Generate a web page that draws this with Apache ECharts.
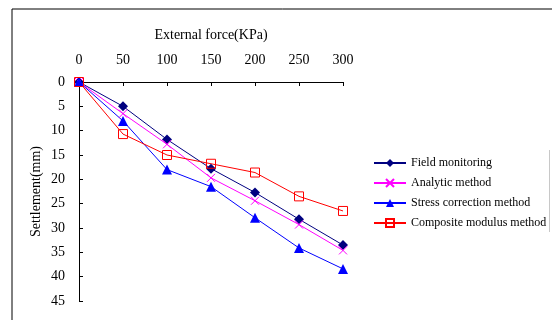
<!DOCTYPE html>
<html>
<head>
<meta charset="utf-8">
<script src="https://cdn.jsdelivr.net/npm/echarts@6/dist/echarts.min.js"></script>
<style>
  html, body { margin: 0; padding: 0; background: #fff; }
  #chart { width: 552px; height: 320px; }
</style>
</head>
<body>
<div id="chart"></div>
<script>
var forces = [0, 50, 100, 150, 200, 250, 300];
var fieldMonitoring = [0, 5.0, 11.8, 17.8, 22.7, 28.2, 33.5];
var analyticMethod = [0, 6.5, 12.8, 19.7, 24.4, 29.3, 34.6];
var stressCorrection = [0, 8.0, 18.0, 21.5, 27.9, 34.1, 38.4];
var compositeModulus = [0, 10.7, 15.0, 16.8, 18.6, 23.5, 26.5];

var dom = document.getElementById("chart");
var myChart = echarts.init(dom, null, { renderer: "canvas" });

var font = "Liberation Serif";

function pairs(vals) {
  return forces.map(function (f, i) { return [f, vals[i]]; });
}

var option = {
  animation: false,
  backgroundColor: "#fff",
  textStyle: { fontFamily: font },
  graphic: [
    {
      type: "rect",
      shape: { x: 12, y: 9, width: 700, height: 500 },
      style: { fill: "none", stroke: "#000", lineWidth: 1 },
      silent: true
    },
    {
      type: "line",
      shape: { x1: 549.5, y1: 150, x2: 549.5, y2: 232 },
      style: { stroke: "#c8c8c8", lineWidth: 1 },
      silent: true
    }
  ],
  grid: { left: 79, top: 82, right: 209, bottom: 19, containLabel: false },
  legend: {
    orient: "vertical",
    left: 368,
    top: 152,
    itemWidth: 32,
    itemHeight: 10,
    itemGap: 8,
    textStyle: { fontFamily: font, fontSize: 12, color: "#000" },
    data: ["Field monitoring", "Analytic method", "Stress correction method", "Composite modulus method"]
  },
  xAxis: {
    type: "value",
    position: "top",
    min: 0,
    max: 300,
    interval: 50,
    name: "External force(KPa)",
    nameLocation: "middle",
    nameGap: 40,
    nameTextStyle: { fontFamily: font, fontSize: 14, color: "#000" },
    axisLine: { lineStyle: { color: "#000", width: 1 } },
    axisTick: { inside: true, length: 4, lineStyle: { color: "#000" } },
    axisLabel: { fontFamily: font, fontSize: 14, color: "#000", margin: 15 },
    splitLine: { show: false }
  },
  yAxis: {
    type: "value",
    inverse: true,
    min: 0,
    max: 45,
    interval: 5,
    name: "Settlement(mm)",
    nameLocation: "middle",
    nameGap: 36,
    nameTextStyle: { fontFamily: font, fontSize: 14, color: "#000" },
    axisLine: { show: true, lineStyle: { color: "#000", width: 1 } },
    axisTick: { show: true, inside: true, length: 4, lineStyle: { color: "#000" } },
    axisLabel: { fontFamily: font, fontSize: 14, color: "#000", margin: 14 },
    splitLine: { show: false }
  },
  series: [
    {
      name: "Field monitoring",
      type: "line",
      data: pairs(fieldMonitoring),
      symbol: "diamond",
      symbolSize: 10,
      lineStyle: { color: "#000080", width: 1 },
      itemStyle: { color: "#000080" }
    },
    {
      name: "Analytic method",
      type: "line",
      data: pairs(analyticMethod),
      symbol: "path://M0,0L10,10M10,0L0,10",
      symbolSize: 8,
      lineStyle: { color: "#ff00ff", width: 1 },
      itemStyle: { color: "#ff00ff", borderColor: "#ff00ff", borderWidth: 1 }
    },
    {
      name: "Stress correction method",
      type: "line",
      data: pairs(stressCorrection),
      symbol: "triangle",
      symbolSize: 10,
      lineStyle: { color: "#0000ff", width: 1 },
      itemStyle: { color: "#0000ff" }
    },
    {
      name: "Composite modulus method",
      type: "line",
      data: pairs(compositeModulus),
      symbol: "rect",
      symbolSize: 9,
      lineStyle: { color: "#ff0000", width: 1 },
      itemStyle: { color: "rgba(255,255,255,0)", borderColor: "#ff0000", borderWidth: 1 }
    }
  ]
};

myChart.setOption(option);
window.addEventListener("resize", myChart.resize);
</script>
</body>
</html>
